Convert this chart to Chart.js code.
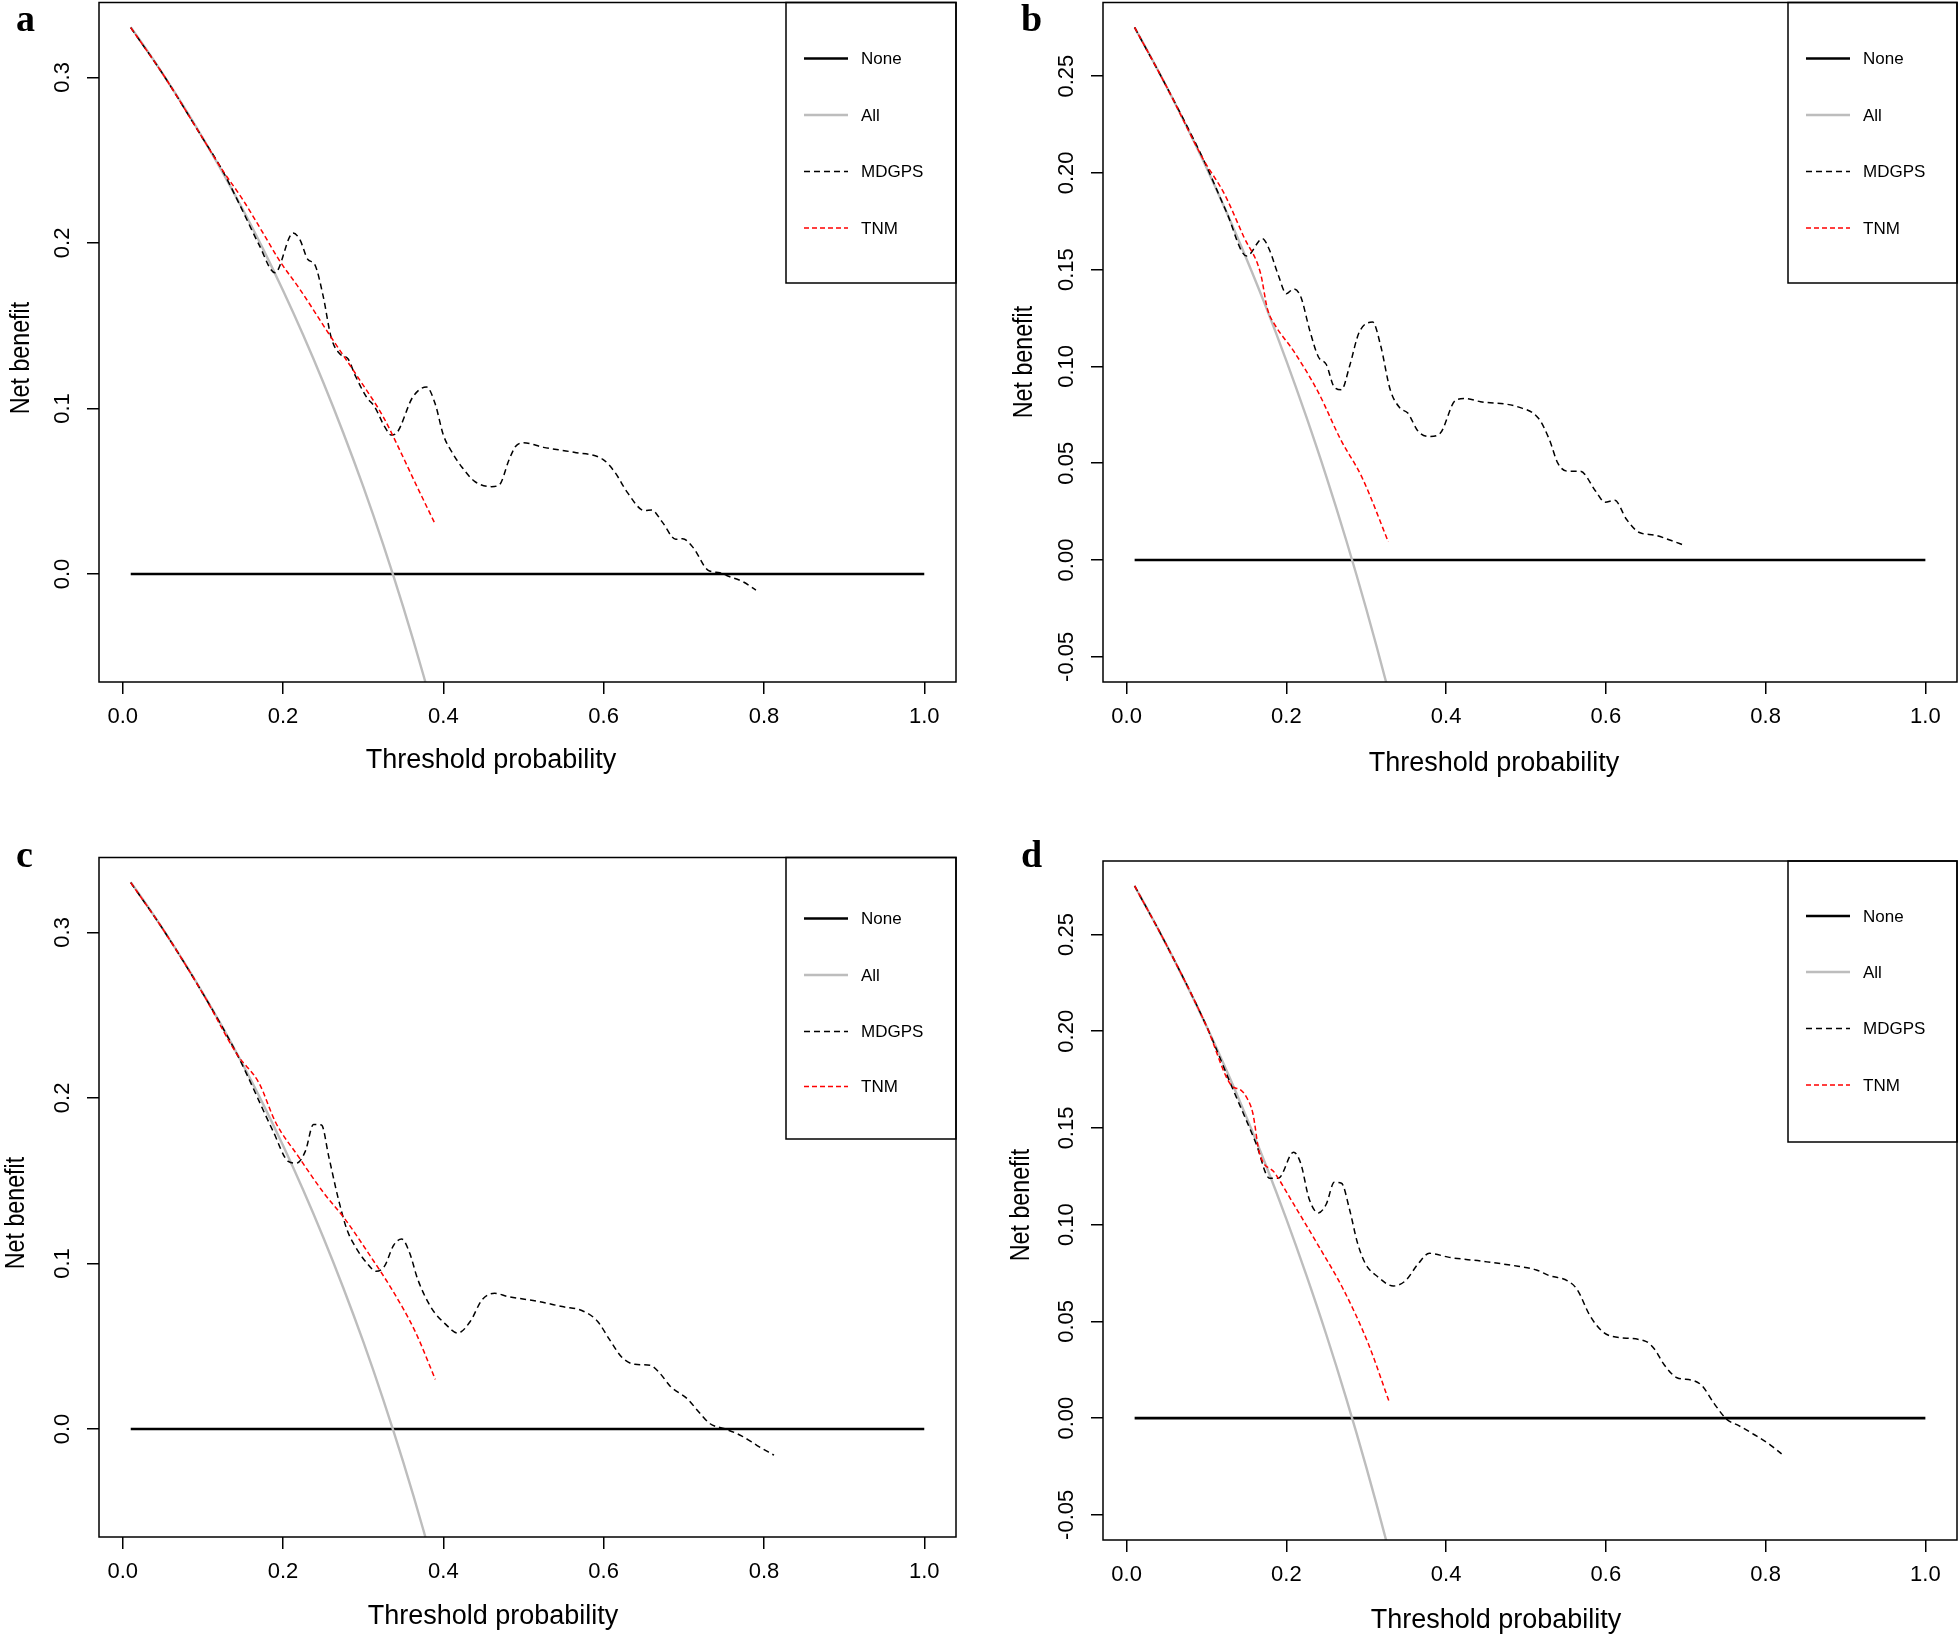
<!DOCTYPE html>
<html><head><meta charset="utf-8">
<script src="https://cdn.jsdelivr.net/npm/chart.js@4.4.0/dist/chart.umd.min.js"></script>
<style>
html,body{margin:0;padding:0;background:#fff;}
body{width:1960px;height:1636px;position:relative;overflow:hidden;}
canvas{position:absolute;}
</style></head><body>
<canvas id="pa"></canvas><canvas id="pb"></canvas><canvas id="pc"></canvas><canvas id="pd"></canvas>
<script>
// ---------------- data ----------------
const seriesNames = ['None', 'All', 'MDGPS', 'TNM'];
const panelLetters = ['a', 'b', 'c', 'd'];
const xTitle = 'Threshold probability';
const yTitle = 'Net benefit';
const xTickValues = [0, 0.2, 0.4, 0.6, 0.8, 1.0];
const yTickValuesAC = [0, 0.1, 0.2, 0.3];
const yTickValuesBD = [-0.05, 0, 0.05, 0.1, 0.15, 0.2, 0.25];

const noneX = [0.01, 1.0];
const noneY = [0, 0];

// panel a
const allAX = [0.01,0.03,0.05,0.075,0.10,0.125,0.15,0.175,0.20,0.225,0.25,0.275,0.30,0.325,0.35,0.375,0.40];
const allAY = [0.3303,0.3165,0.3021,0.2832,0.2633,0.2423,0.2200,0.1964,0.1712,0.1445,0.1160,0.0855,0.0529,0.0178,-0.0200,-0.0608,-0.1050];
const mdgpsAX = [0.01,0.05,0.10,0.123,0.146,0.17,0.19,0.2125,0.221,0.231,0.2395,0.25,0.26,0.2707,0.281,0.29,0.304,0.3143,0.3268,0.335,0.3414,0.362,0.379,0.39,0.40,0.412,0.423,0.439,0.46,0.47,0.482,0.49,0.50,0.525,0.563,0.599,0.614,0.63,0.651,0.66,0.673,0.69,0.6985,0.712,0.73,0.745,0.754,0.774,0.79];
const mdgpsAY = [0.330,0.302,0.263,0.245,0.223,0.199,0.182,0.206,0.202,0.190,0.187,0.168,0.143,0.133,0.130,0.120,0.107,0.101,0.089,0.084,0.085,0.107,0.113,0.1025,0.084,0.0726,0.0647,0.056,0.0528,0.054,0.069,0.077,0.0793,0.0765,0.0735,0.0693,0.0615,0.049,0.0383,0.0387,0.0315,0.021,0.0213,0.0158,0.0024,0.0008,-0.001,-0.0047,-0.0097];
const tnmAX = [0.01,0.05,0.10,0.123,0.15,0.175,0.196,0.221,0.26,0.296,0.325,0.3455,0.365,0.39];
const tnmAY = [0.330,0.302,0.263,0.245,0.226,0.206,0.189,0.172,0.143,0.117,0.095,0.075,0.055,0.030];

// panel b
const allBX = [0.01,0.03,0.05,0.075,0.10,0.125,0.15,0.175,0.20,0.225,0.25,0.275,0.30,0.325,0.35];
const allBY = [0.2751,0.2601,0.2445,0.2241,0.2026,0.1798,0.1556,0.1301,0.1029,0.0739,0.0431,0.0101,-0.0253,-0.0633,-0.1042];
const mdgpsBX = [0.01,0.05,0.096,0.125,0.1505,0.17,0.179,0.19,0.20,0.209,0.218,0.229,0.24,0.25,0.26,0.269,0.279,0.291,0.308,0.318,0.33,0.342,0.352,0.365,0.379,0.392,0.412,0.4236,0.443,0.49,0.5156,0.529,0.54,0.552,0.568,0.587,0.599,0.611,0.626,0.642,0.661,0.681,0.699];
const mdgpsBY = [0.2751,0.2445,0.207,0.1798,0.157,0.166,0.160,0.147,0.1376,0.140,0.136,0.119,0.105,0.101,0.0893,0.088,0.100,0.1175,0.1229,0.1108,0.088,0.0786,0.0759,0.0665,0.0638,0.0652,0.0826,0.0834,0.0818,0.0791,0.0732,0.0625,0.0499,0.0459,0.0459,0.0357,0.0298,0.0309,0.0209,0.0142,0.0129,0.0102,0.0075];
const tnmBX = [0.01,0.05,0.096,0.123,0.1466,0.1677,0.1763,0.1856,0.209,0.24,0.2676,0.295,0.3276];
const tnmBY = [0.2751,0.2445,0.207,0.1886,0.167,0.148,0.1296,0.1215,0.108,0.0866,0.0625,0.0424,0.0094];

// panel c
const allCX = [0.01,0.03,0.05,0.075,0.10,0.125,0.15,0.175,0.20,0.225,0.25,0.275,0.30,0.325,0.35,0.375,0.40];
const allCY = [0.3303,0.3165,0.3021,0.2832,0.2633,0.2423,0.2200,0.1964,0.1712,0.1445,0.1160,0.0855,0.0529,0.0178,-0.0200,-0.0608,-0.1050];
const mdgpsCX = [0.01,0.05,0.10,0.143,0.1875,0.207,0.217,0.228,0.238,0.248,0.257,0.269,0.2797,0.291,0.305,0.316,0.3266,0.338,0.348,0.358,0.368,0.385,0.402,0.418,0.434,0.448,0.464,0.48,0.519,0.55,0.5727,0.592,0.607,0.623,0.639,0.658,0.67,0.683,0.705,0.719,0.7328,0.752,0.772,0.791,0.8125];
const mdgpsCY = [0.330,0.302,0.263,0.226,0.180,0.1615,0.1606,0.168,0.184,0.1836,0.1647,0.139,0.1205,0.1095,0.100,0.0953,0.0984,0.111,0.1148,0.1063,0.0905,0.0732,0.0637,0.058,0.0653,0.0779,0.082,0.0801,0.077,0.0738,0.0716,0.0653,0.0543,0.0432,0.0391,0.0385,0.0338,0.0259,0.018,0.0101,0.0032,0.0,-0.0041,-0.0098,-0.0158];
const tnmCX = [0.01,0.05,0.10,0.143,0.17,0.191,0.219,0.2508,0.2773,0.3086,0.336,0.3648,0.39];
const tnmCY = [0.330,0.302,0.263,0.226,0.209,0.185,0.1647,0.1426,0.1268,0.1047,0.0842,0.059,0.030];

// panel d
const allDX = [0.01,0.03,0.05,0.075,0.10,0.125,0.15,0.175,0.20,0.225,0.25,0.275,0.30,0.325,0.35];
const allDY = [0.2751,0.2601,0.2445,0.2241,0.2026,0.1798,0.1556,0.1301,0.1029,0.0739,0.0431,0.0101,-0.0253,-0.0633,-0.1042];
const mdgpsDX = [0.01,0.05,0.10,0.131,0.162,0.179,0.19,0.209,0.218,0.2285,0.24,0.25,0.26,0.269,0.279,0.289,0.299,0.314,0.334,0.349,0.365,0.379,0.404,0.443,0.49,0.513,0.529,0.552,0.564,0.58,0.595,0.607,0.65,0.661,0.673,0.689,0.708,0.72,0.7356,0.751,0.767,0.786,0.806,0.82];
const mdgpsDY = [0.2751,0.2445,0.2026,0.172,0.142,0.124,0.124,0.1375,0.1316,0.1133,0.1061,0.1107,0.1219,0.1214,0.108,0.0906,0.0798,0.0732,0.0683,0.071,0.0798,0.0852,0.0831,0.0812,0.0785,0.0766,0.0737,0.071,0.0665,0.053,0.045,0.0423,0.0397,0.0356,0.0276,0.0209,0.0196,0.0169,0.0075,-0.0005,-0.004,-0.0086,-0.0139,-0.0185];
const tnmDX = [0.01,0.05,0.10,0.131,0.143,0.1505,0.158,0.166,0.1856,0.209,0.24,0.2714,0.3027,0.3284];
const tnmDY = [0.2751,0.2445,0.2026,0.172,0.1696,0.1656,0.1576,0.1375,0.1267,0.1107,0.0892,0.0665,0.0383,0.0088];

// axis ranges (R default 4% extension of data ranges)
const xRange = [-0.0296, 1.0396];
const yRangeAC = [-0.0652, 0.3452];
const yRangeBD = [-0.063, 0.288];

// ---------------- layout / style ----------------
const FONT = "'Liberation Sans', Arial, Helvetica, sans-serif";
const layoutP = [
  {canvas:'pa', cl:0,   ct:0,   cw:980, ch:818, area:{l:99,  t:2.5,   r:956,  b:682},  legL:786,  legB:283,  rows:[56,112.5,169,225.5], lab:[16,31],    xt:[491,761],   yt:[22,358],   yPad:9,
   xs:allAX, ys:allAY, mx:mdgpsAX, my:mdgpsAY, tx:tnmAX, ty:tnmAY, yr:yRangeAC, yt_:yTickValuesAC, dec:1},
  {canvas:'pb', cl:980, ct:0,   cw:980, ch:818, area:{l:1103,t:2.5,   r:1957, b:682},  legL:1788, legB:283,  rows:[56,112.5,169,225.5], lab:[1021,31],  xt:[1494,764],  yt:[1025,362], yPad:-1,
   xs:allBX, ys:allBY, mx:mdgpsBX, my:mdgpsBY, tx:tnmBX, ty:tnmBY, yr:yRangeBD, yt_:yTickValuesBD, dec:2},
  {canvas:'pc', cl:0,   ct:818, cw:980, ch:818, area:{l:99,  t:857.5, r:956,  b:1537}, legL:786,  legB:1139, rows:[61,117.5,174,229],   lab:[16,867],   xt:[493,1617],  yt:[17,1213],  yPad:9,
   xs:allCX, ys:allCY, mx:mdgpsCX, my:mdgpsCY, tx:tnmCX, ty:tnmCY, yr:yRangeAC, yt_:yTickValuesAC, dec:1},
  {canvas:'pd', cl:980, ct:818, cw:980, ch:818, area:{l:1103,t:861,   r:1957, b:1540}, legL:1788, legB:1142, rows:[55,111,167.5,224],   lab:[1021,867], xt:[1496,1621], yt:[1022,1205], yPad:-1,
   xs:allDX, ys:allDY, mx:mdgpsDX, my:mdgpsDY, tx:tnmDX, ty:tnmDY, yr:yRangeBD, yt_:yTickValuesBD, dec:2}
];

const styles = [
  {borderColor:'#000000', borderWidth:2.6, borderDash:[],    order:4},
  {borderColor:'#bdbdbd', borderWidth:2.4, borderDash:[],    order:3},
  {borderColor:'#000000', borderWidth:1.5, borderDash:[6,4], order:2},
  {borderColor:'#ff0000', borderWidth:1.5, borderDash:[5,3], order:1}
];

function pts(xs, ys) { return xs.map((x, i) => ({x: x, y: ys[i]})); }

const decor = {
  id: 'decor',
  afterDraw(chart, args, o) {
    const P = o.p; const ctx = chart.ctx; const a = chart.chartArea;
    const ox = P.cl, oy = P.ct;
    ctx.save();
    ctx.strokeStyle = '#000'; ctx.lineWidth = 1.5; ctx.setLineDash([]);
    ctx.strokeRect(a.left, a.top, a.right - a.left, a.bottom - a.top);
    // legend box
    const lx = P.legL - ox, lb = P.legB - oy;
    ctx.strokeRect(lx, a.top, a.right - lx, lb - a.top);
    chart.data.datasets.forEach((ds, i) => {
      const y = a.top + P.rows[i];
      ctx.beginPath();
      ctx.strokeStyle = ds.borderColor; ctx.lineWidth = ds.borderWidth;
      ctx.setLineDash(ds.borderDash || []);
      ctx.moveTo(lx + 18, y); ctx.lineTo(lx + 62, y); ctx.stroke();
      ctx.setLineDash([]);
      ctx.fillStyle = '#000'; ctx.font = '17px ' + FONT;
      ctx.textAlign = 'left'; ctx.textBaseline = 'middle';
      ctx.fillText(ds.label, lx + 75, y + 1);
    });
    // axis titles
    ctx.fillStyle = '#000'; ctx.font = '27px ' + FONT;
    ctx.textAlign = 'center'; ctx.textBaseline = 'middle';
    ctx.fillText(o.xTitle, P.xt[0] - ox, P.xt[1] - oy);
    ctx.save();
    ctx.translate(P.yt[0] - ox, P.yt[1] - oy); ctx.rotate(-Math.PI / 2); ctx.scale(0.86, 1);
    ctx.fillText(o.yTitle, 0, 0);
    ctx.restore();
    // panel letter
    ctx.font = "bold 38px 'Liberation Serif', 'Times New Roman', serif";
    ctx.textAlign = 'left'; ctx.textBaseline = 'alphabetic';
    ctx.fillText(o.letter, P.lab[0] - ox, P.lab[1] - oy);
    ctx.restore();
  }
};

layoutP.forEach((P, k) => {
  const cv = document.getElementById(P.canvas);
  cv.width = P.cw; cv.height = P.ch;
  cv.style.left = P.cl + 'px'; cv.style.top = P.ct + 'px';
  cv.style.width = P.cw + 'px'; cv.style.height = P.ch + 'px';
  const yw = P.area.l - P.cl;
  const xh = P.ct + P.ch - P.area.b;
  const padTop = P.area.t - P.ct;
  const padRight = P.cl + P.cw - P.area.r;
  const seriesData = [pts(noneX, noneY), pts(P.xs, P.ys), pts(P.mx, P.my), pts(P.tx, P.ty)];
  const datasets = seriesNames.map((name, i) => Object.assign({
    label: name, data: seriesData[i], pointRadius: 0, fill: false,
    cubicInterpolationMode: i === 0 ? 'default' : 'monotone', tension: 0
  }, styles[i]));
  new Chart(cv, {
    type: 'line',
    data: {datasets: datasets},
    plugins: [decor],
    options: {
      responsive: false, animation: false, devicePixelRatio: 1,
      events: [],
      layout: {padding: {top: padTop, right: padRight, left: 0, bottom: 0}, autoPadding: false},
      plugins: {legend: {display: false}, tooltip: {enabled: false},
        decor: {p: P, xTitle: xTitle, yTitle: yTitle, letter: panelLetters[k]}},
      scales: {
        x: {
          type: 'linear', min: xRange[0], max: xRange[1],
          afterBuildTicks: s => { s.ticks = xTickValues.map(v => ({value: v})); },
          afterFit: s => { s.height = xh; s.paddingLeft = 0; s.paddingRight = 0; },
          grid: {drawOnChartArea: false, drawTicks: true, tickLength: 12, color: '#000', lineWidth: 1.5},
          border: {display: false},
          ticks: {color: '#000', font: {family: FONT, size: 22}, padding: 10, maxRotation: 0, minRotation: 0,
                  autoSkip: false, callback: v => v.toFixed(1)}
        },
        y: {
          type: 'linear', min: P.yr[0], max: P.yr[1],
          afterBuildTicks: s => { s.ticks = P.yt_.map(v => ({value: v})); },
          afterFit: s => { s.width = yw; s.paddingTop = 0; s.paddingBottom = 0; },
          grid: {drawOnChartArea: false, drawTicks: true, tickLength: 12, color: '#000', lineWidth: 1.5},
          border: {display: false},
          ticks: {color: '#000', font: {family: FONT, size: 22}, padding: P.yPad, minRotation: 90, maxRotation: 90,
                  crossAlign: 'center', autoSkip: false, callback: v => v.toFixed(P.dec)}
        }
      }
    }
  });
});
</script>
</body></html>
